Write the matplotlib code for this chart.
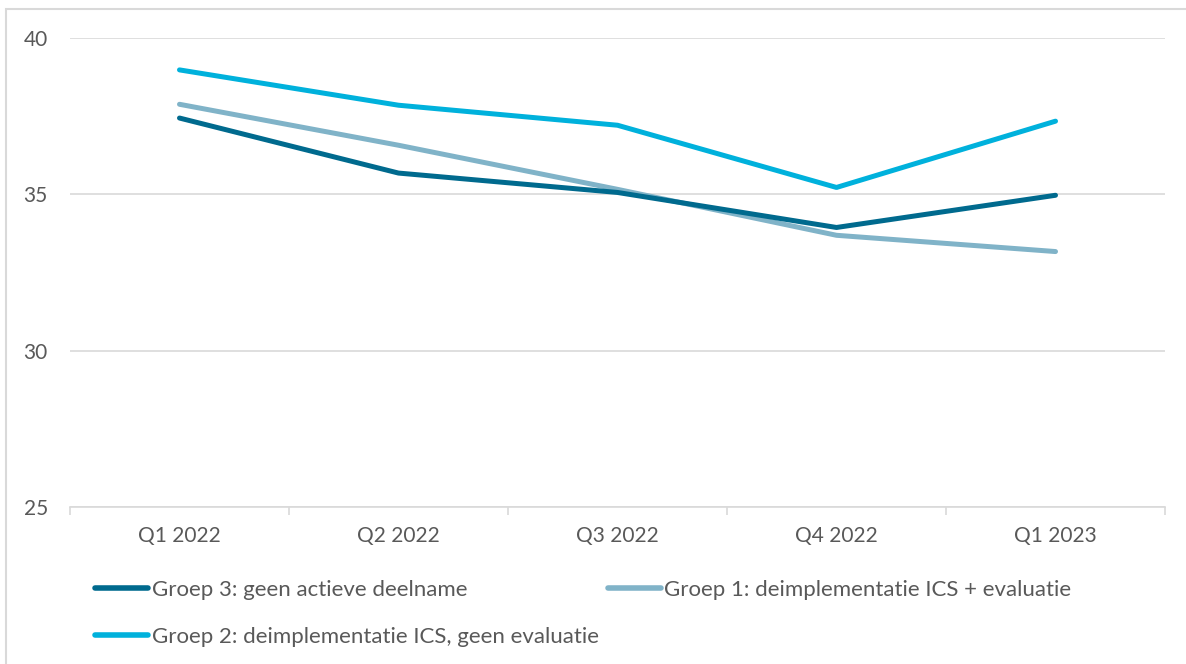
import matplotlib
matplotlib.use("Agg")
import matplotlib.pyplot as plt
from matplotlib.lines import Line2D
from matplotlib.patches import Rectangle

categories = ["Q1 2022", "Q2 2022", "Q3 2022", "Q4 2022", "Q1 2023"]
groep3 = [37.44, 35.68, 35.06, 33.94, 34.97]
groep1 = [37.88, 36.57, 35.16, 33.69, 33.17]
groep2 = [38.98, 37.85, 37.21, 35.22, 37.34]
labels = ["Groep 3: geen actieve deelname",
          "Groep 1: deimplementatie ICS + evaluatie",
          "Groep 2: deimplementatie ICS, geen evaluatie"]
yticks = [25, 30, 35, 40]

c3 = "#006A8E"
c1 = "#80B3C8"
c2 = "#00B1DC"
txt = "#595959"
grid = "#D9D9D9"

plt.rcParams['font.family'] = ['Lato', 'DejaVu Sans']

fig = plt.figure(figsize=(11.86, 6.64), dpi=100)
fig.patches.append(Rectangle((6/1186, -0.1), 1.2, 1 - 9/664 + 0.1, transform=fig.transFigure,
                             fill=False, edgecolor=grid, lw=1.5))
ax = fig.add_axes([70/1186, 1 - 507/664, 1095/1186, (507 - 38)/664])

x = list(range(len(categories)))
ax.plot(x, groep3, color=c3, lw=3.6, solid_capstyle='round', solid_joinstyle='round', label=labels[0], zorder=3)
ax.plot(x, groep1, color=c1, lw=3.6, solid_capstyle='round', solid_joinstyle='round', label=labels[1], zorder=2)
ax.plot(x, groep2, color=c2, lw=3.6, solid_capstyle='round', solid_joinstyle='round', label=labels[2], zorder=2)

ax.set_xlim(-0.5, len(categories) - 0.5)
ax.set_ylim(25, 40)
ax.set_yticks(yticks)
ax.set_xticks(x)
ax.set_xticklabels(categories)
ax.set_xticks([i - 0.5 for i in range(len(categories) + 1)], minor=True)
ax.tick_params(axis='x', which='major', length=0, pad=14, labelsize=15, labelcolor=txt)
ax.tick_params(axis='x', which='minor', length=6, width=1.2, color=grid, direction='out')
ax.tick_params(axis='y', length=0, pad=16, labelsize=15, labelcolor=txt)
ax.grid(axis='y', color=grid, lw=1.2)
ax.set_axisbelow(True)
for s in ['top', 'right', 'left']:
    ax.spines[s].set_visible(False)
ax.spines['bottom'].set_color(grid)
ax.spines['bottom'].set_linewidth(1.2)

handles = [Line2D([], [], color=c3, lw=4, solid_capstyle='round'),
           Line2D([], [], color=c2, lw=4, solid_capstyle='round'),
           Line2D([], [], color=c1, lw=4, solid_capstyle='round')]
leg = fig.legend(handles, [labels[0], labels[2], labels[1]], ncol=2,
                 loc='upper left', bbox_to_anchor=(95/1186, 1 - 580/664),
                 frameon=False, fontsize=16, labelcolor=txt,
                 handlelength=2.4, handletextpad=0.15, columnspacing=0.4,
                 labelspacing=1.2, borderaxespad=0, borderpad=0)

fig.savefig("out.png", dpi=100)
